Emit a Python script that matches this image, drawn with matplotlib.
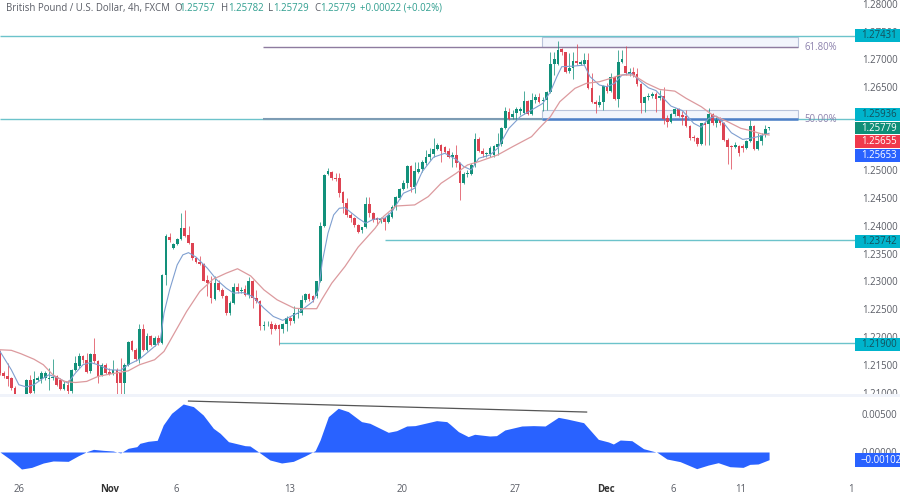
# GBP/USD 4h chart with price and oscillator panes
import matplotlib
matplotlib.use('Agg')
import matplotlib.pyplot as plt
from matplotlib.patches import Rectangle

plt.rcParams['font.family'] = ['Open Sans', 'DejaVu Sans']

W, H = 900, 494
GREEN = '#12907a'
RED = '#dd4352'
TEAL = '#6cc3cb'
PURPLE = '#8d82ad'
LABEL = '#5a5d66'

opens = [
    1.2174, 1.2136, 1.2129, 1.2126, 1.2109, 1.2096, 1.2090, 1.2093, 1.2123, 1.2102,
    1.2123, 1.2125, 1.2126, 1.2125, 1.2126, 1.2129, 1.2123, 1.2106, 1.2114, 1.2102,
    1.2141, 1.2147, 1.2166, 1.2158, 1.2138, 1.2170, 1.2157, 1.2132, 1.2150, 1.2137,
    1.2136, 1.2141, 1.2135, 1.2118, 1.2149, 1.2192, 1.2176, 1.2160, 1.2214, 1.2177,
    1.2201, 1.2186, 1.2198, 1.2190, 1.2312, 1.2381, 1.2360, 1.2368, 1.2376, 1.2396,
    1.2384, 1.2369, 1.2342, 1.2336, 1.2332, 1.2303, 1.2298, 1.2269, 1.2298, 1.2284,
    1.2274, 1.2243, 1.2262, 1.2290, 1.2283, 1.2286, 1.2276, 1.2300, 1.2270, 1.2264,
    1.2220, 1.2223, 1.2224, 1.2222, 1.2222, 1.2215, 1.2223, 1.2234, 1.2228, 1.2242,
    1.2243, 1.2267, 1.2277, 1.2273, 1.2273, 1.2300, 1.2400, 1.2493, 1.2498, 1.2487,
    1.2487, 1.2462, 1.2441, 1.2420, 1.2414, 1.2402, 1.2393, 1.2399, 1.2440, 1.2423,
    1.2414, 1.2411, 1.2414, 1.2408, 1.2417, 1.2434, 1.2450, 1.2466, 1.2478, 1.2509,
    1.2471, 1.2498, 1.2502, 1.2514, 1.2524, 1.2529, 1.2539, 1.2546, 1.2543, 1.2536,
    1.2525, 1.2528, 1.2514, 1.2477, 1.2493, 1.2494, 1.2510, 1.2556, 1.2536, 1.2529,
    1.2529, 1.2528, 1.2543, 1.2548, 1.2576, 1.2606, 1.2597, 1.2603, 1.2608, 1.2604,
    1.2625, 1.2602, 1.2627, 1.2633, 1.2625, 1.2627, 1.2642, 1.2692, 1.2692, 1.2719,
    1.2713, 1.2679, 1.2684, 1.2698, 1.2692, 1.2692, 1.2699, 1.2648, 1.2624, 1.2618,
    1.2623, 1.2653, 1.2643, 1.2668, 1.2628, 1.2695, 1.2689, 1.2674, 1.2677, 1.2674,
    1.2655, 1.2621, 1.2632, 1.2635, 1.2638, 1.2630, 1.2635, 1.2594, 1.2588, 1.2601,
    1.2610, 1.2600, 1.2598, 1.2580, 1.2561, 1.2558, 1.2548, 1.2586, 1.2584, 1.2602,
    1.2586, 1.2591, 1.2586, 1.2555, 1.2544, 1.2543, 1.2544, 1.2545, 1.2540, 1.2554,
    1.2580, 1.2539, 1.2554, 1.2564, 1.25757,
]
closes = [
    1.2135, 1.2129, 1.2124, 1.2108, 1.2093, 1.2087, 1.2081, 1.2123, 1.2100, 1.2125,
    1.2126, 1.2136, 1.2136, 1.2127, 1.2128, 1.2114, 1.2106, 1.2116, 1.2102, 1.2141,
    1.2153, 1.2166, 1.2158, 1.2137, 1.2170, 1.2156, 1.2130, 1.2150, 1.2136, 1.2134,
    1.2141, 1.2118, 1.2118, 1.2149, 1.2191, 1.2176, 1.2160, 1.2214, 1.2177, 1.2201,
    1.2186, 1.2198, 1.2190, 1.2312, 1.2382, 1.2375, 1.2368, 1.2376, 1.2396, 1.2382,
    1.2369, 1.2342, 1.2335, 1.2332, 1.2301, 1.2298, 1.2270, 1.2298, 1.2284, 1.2273,
    1.2243, 1.2262, 1.2290, 1.2282, 1.2285, 1.2276, 1.2300, 1.2270, 1.2264, 1.2220,
    1.2222, 1.2224, 1.2215, 1.2215, 1.2215, 1.2223, 1.2234, 1.2228, 1.2243, 1.2244,
    1.2267, 1.2277, 1.2269, 1.2267, 1.2300, 1.2400, 1.2492, 1.2499, 1.2486, 1.2485,
    1.2459, 1.2441, 1.2420, 1.2414, 1.2402, 1.2390, 1.2398, 1.2440, 1.2423, 1.2411,
    1.2411, 1.2413, 1.2407, 1.2420, 1.2434, 1.2452, 1.2466, 1.2478, 1.2509, 1.2471,
    1.2499, 1.2503, 1.2515, 1.2525, 1.2529, 1.2539, 1.2546, 1.2536, 1.2534, 1.2524,
    1.2528, 1.2513, 1.2477, 1.2494, 1.2496, 1.2510, 1.2556, 1.2536, 1.2529, 1.2531,
    1.2540, 1.2544, 1.2548, 1.2576, 1.2608, 1.2593, 1.2602, 1.2610, 1.2610, 1.2625,
    1.2601, 1.2627, 1.2633, 1.2624, 1.2627, 1.2642, 1.2691, 1.2700, 1.2718, 1.2713,
    1.2678, 1.2685, 1.2698, 1.2693, 1.2696, 1.2699, 1.2648, 1.2624, 1.2620, 1.2623,
    1.2653, 1.2643, 1.2668, 1.2628, 1.2695, 1.2701, 1.2675, 1.2677, 1.2672, 1.2655,
    1.2622, 1.2632, 1.2635, 1.2638, 1.2629, 1.2635, 1.2592, 1.2588, 1.2602, 1.2610,
    1.2598, 1.2597, 1.2580, 1.2559, 1.2558, 1.2548, 1.2585, 1.2582, 1.2602, 1.2585,
    1.2591, 1.2586, 1.2555, 1.2543, 1.2542, 1.2546, 1.2531, 1.2540, 1.2554, 1.2580,
    1.2539, 1.2554, 1.2564, 1.2574, 1.25779,
]
highs = [
    1.2177, 1.2138, 1.2153, 1.2128, 1.2111, 1.2098, 1.2092, 1.2124, 1.2132, 1.2138,
    1.2129, 1.2138, 1.2138, 1.2144, 1.2160, 1.2132, 1.2126, 1.2120, 1.2123, 1.2142,
    1.2165, 1.2172, 1.2168, 1.2171, 1.2171, 1.2198, 1.2159, 1.2153, 1.2153, 1.2144,
    1.2159, 1.2144, 1.2162, 1.2153, 1.2192, 1.2195, 1.2180, 1.2224, 1.2224, 1.2207,
    1.2204, 1.2201, 1.2204, 1.2314, 1.2385, 1.2388, 1.2369, 1.2378, 1.2423, 1.2428,
    1.2400, 1.2370, 1.2345, 1.2346, 1.2334, 1.2312, 1.2310, 1.2310, 1.2303, 1.2288,
    1.2276, 1.2264, 1.2297, 1.2297, 1.2290, 1.2294, 1.2308, 1.2303, 1.2285, 1.2267,
    1.2228, 1.2228, 1.2228, 1.2225, 1.2224, 1.2225, 1.2237, 1.2237, 1.2255, 1.2253,
    1.2276, 1.2279, 1.2279, 1.2276, 1.2301, 1.2407, 1.2493, 1.2505, 1.2499, 1.2495,
    1.2495, 1.2463, 1.2450, 1.2423, 1.2417, 1.2404, 1.2399, 1.2453, 1.2453, 1.2426,
    1.2417, 1.2417, 1.2417, 1.2423, 1.2438, 1.2454, 1.2468, 1.2483, 1.2510, 1.2510,
    1.2516, 1.2516, 1.2519, 1.2537, 1.2540, 1.2558, 1.2549, 1.2548, 1.2544, 1.2540,
    1.2534, 1.2546, 1.2516, 1.2498, 1.2500, 1.2513, 1.2568, 1.2561, 1.2540, 1.2534,
    1.2544, 1.2546, 1.2567, 1.2579, 1.2614, 1.2612, 1.2609, 1.2615, 1.2614, 1.2644,
    1.2627, 1.2640, 1.2638, 1.2639, 1.2632, 1.2643, 1.2714, 1.2714, 1.2734, 1.2720,
    1.2714, 1.2711, 1.2714, 1.2728, 1.2699, 1.2711, 1.2711, 1.2675, 1.2627, 1.2636,
    1.2654, 1.2657, 1.2675, 1.2669, 1.2717, 1.2717, 1.2724, 1.2685, 1.2687, 1.2685,
    1.2657, 1.2634, 1.2639, 1.2642, 1.2642, 1.2645, 1.2651, 1.2600, 1.2604, 1.2612,
    1.2612, 1.2608, 1.2609, 1.2582, 1.2564, 1.2560, 1.2586, 1.2588, 1.2612, 1.2603,
    1.2597, 1.2597, 1.2588, 1.2558, 1.2546, 1.2552, 1.2546, 1.2548, 1.2555, 1.2591,
    1.2582, 1.2567, 1.2567, 1.2582, 1.25782,
]
lows = [
    1.2132, 1.2126, 1.2111, 1.2105, 1.2090, 1.2084, 1.2078, 1.2087, 1.2096, 1.2099,
    1.2120, 1.2117, 1.2123, 1.2104, 1.2123, 1.2111, 1.2105, 1.2104, 1.2096, 1.2099,
    1.2139, 1.2144, 1.2153, 1.2135, 1.2135, 1.2153, 1.2118, 1.2130, 1.2134, 1.2132,
    1.2132, 1.2096, 1.2096, 1.2096, 1.2147, 1.2174, 1.2156, 1.2153, 1.2174, 1.2174,
    1.2183, 1.2184, 1.2186, 1.2188, 1.2294, 1.2372, 1.2358, 1.2366, 1.2375, 1.2381,
    1.2368, 1.2339, 1.2333, 1.2330, 1.2300, 1.2273, 1.2261, 1.2267, 1.2282, 1.2270,
    1.2240, 1.2240, 1.2260, 1.2279, 1.2279, 1.2273, 1.2270, 1.2252, 1.2261, 1.2212,
    1.2212, 1.2219, 1.2206, 1.2213, 1.2186, 1.2207, 1.2210, 1.2222, 1.2225, 1.2235,
    1.2240, 1.2263, 1.2265, 1.2263, 1.2271, 1.2299, 1.2399, 1.2491, 1.2483, 1.2481,
    1.2453, 1.2423, 1.2417, 1.2408, 1.2399, 1.2387, 1.2387, 1.2396, 1.2417, 1.2408,
    1.2402, 1.2405, 1.2393, 1.2405, 1.2414, 1.2429, 1.2448, 1.2464, 1.2468, 1.2462,
    1.2460, 1.2495, 1.2498, 1.2510, 1.2519, 1.2525, 1.2537, 1.2516, 1.2531, 1.2522,
    1.2507, 1.2507, 1.2447, 1.2476, 1.2489, 1.2492, 1.2507, 1.2534, 1.2525, 1.2525,
    1.2525, 1.2525, 1.2528, 1.2544, 1.2574, 1.2591, 1.2592, 1.2591, 1.2600, 1.2602,
    1.2600, 1.2600, 1.2622, 1.2621, 1.2608, 1.2609, 1.2640, 1.2672, 1.2690, 1.2708,
    1.2675, 1.2675, 1.2665, 1.2690, 1.2690, 1.2690, 1.2646, 1.2621, 1.2603, 1.2615,
    1.2609, 1.2640, 1.2642, 1.2627, 1.2614, 1.2693, 1.2672, 1.2670, 1.2668, 1.2653,
    1.2604, 1.2606, 1.2627, 1.2630, 1.2606, 1.2627, 1.2584, 1.2578, 1.2585, 1.2599,
    1.2596, 1.2582, 1.2578, 1.2555, 1.2554, 1.2544, 1.2546, 1.2546, 1.2546, 1.2582,
    1.2579, 1.2582, 1.2554, 1.2512, 1.2502, 1.2540, 1.2526, 1.2534, 1.2538, 1.2552,
    1.2537, 1.2537, 1.2546, 1.2561, 1.25729,
]

fast_x = [0, 3, 5, 7, 9, 11.5, 13, 15.5, 18, 20, 22, 24, 26, 29, 32, 34, 37, 41, 42.5, 43.5,
          45, 47, 48.5, 50, 52, 55, 57.5, 60, 62, 64.5, 67, 70, 72.5, 75, 78, 79, 83, 84.5,
          85.5, 87, 88.5, 90, 91.5, 95, 97, 99, 102, 104, 107, 110, 112, 115, 118, 121, 123,
          125, 127, 130, 132, 135, 138, 141, 144, 146, 147.7, 149, 152, 155, 156.5, 159,
          161, 163, 165, 167.5, 170, 172, 174, 176, 178, 181, 184, 186, 188, 190, 192, 194,
          197, 199, 201, 204]
fast_ma = [1.2174, 1.2141, 1.2114, 1.2110, 1.2114, 1.2126, 1.2132, 1.2126, 1.2117, 1.2135,
           1.2150, 1.2154, 1.2150, 1.2141, 1.2140, 1.2150, 1.2160, 1.2183, 1.2192, 1.2243,
           1.2285, 1.2330, 1.2348, 1.2352, 1.2344, 1.2324, 1.2303, 1.2288, 1.2279, 1.2280,
           1.2273, 1.2252, 1.2237, 1.2230, 1.2240, 1.2243, 1.2264, 1.2285, 1.2336, 1.2387,
           1.2420, 1.2432, 1.2433, 1.2414, 1.2405, 1.2412, 1.2414, 1.2426, 1.2459, 1.2468,
           1.2498, 1.2524, 1.2531, 1.2520, 1.2507, 1.2501, 1.2522, 1.2528, 1.2540, 1.2576,
           1.2597, 1.2609, 1.2621, 1.2642, 1.2669, 1.2687, 1.2688, 1.2690, 1.2669, 1.2654,
           1.2651, 1.2657, 1.2672, 1.2675, 1.2660, 1.2649, 1.2644, 1.2630, 1.2616, 1.2608,
           1.2585, 1.2578, 1.2594, 1.2598, 1.2585, 1.2568, 1.2556, 1.2558, 1.2561, 1.2567]
slow_x = [0, 3, 5.5, 9, 11.5, 14, 17, 20, 23, 26, 29, 34, 37, 41, 43.5, 46, 49.5, 53, 56.5, 60,
          63, 66.5, 70, 73.5, 78, 80, 84, 85.3, 88, 91.5, 95, 99.5, 101.7, 105, 110, 113.6,
          117, 121, 124, 127, 132, 136, 141, 143, 146, 148.5, 152.5, 155.5, 159, 162, 164.5,
          168, 171.5, 175, 179, 182, 186, 189, 193, 196.5, 199, 202, 204]
slow_ma = [1.2177, 1.2176, 1.2170, 1.2160, 1.2150, 1.2132, 1.2120, 1.2118, 1.2120, 1.2129,
           1.2133, 1.2139, 1.2150, 1.2159, 1.2174, 1.2204, 1.2246, 1.2282, 1.2304, 1.2315,
           1.2323, 1.2310, 1.2285, 1.2267, 1.2252, 1.2251, 1.2251, 1.2267, 1.2297, 1.2327,
           1.2362, 1.2396, 1.2417, 1.2436, 1.2438, 1.2453, 1.2477, 1.2495, 1.2510, 1.2516,
           1.2528, 1.2543, 1.2561, 1.2576, 1.2597, 1.2624, 1.2648, 1.2657, 1.2660, 1.2666,
           1.2672, 1.2672, 1.2657, 1.2646, 1.2643, 1.2630, 1.2615, 1.2600, 1.2588, 1.2576,
           1.2572, 1.2566, 1.2564]

osc_x = [0, 2.7, 5.7, 8.4, 11.5, 14.1, 18.1, 20.8, 23, 24.8, 27.4, 30, 32, 34, 36.3, 37.1, 39.3,
         41.7, 43.3, 45.5, 48.6, 51.3, 53.9, 56.6, 58.4, 60.6, 65, 66.3, 68.5, 71.6, 74.7, 77.8,
         80.9, 83.6, 84.9, 87.1, 89.7, 92.4, 95.9, 98.1, 103, 105.2, 107.9, 110.1, 115.8, 118.5,
         119.4, 121.6, 124.2, 125.9, 129.9, 131.7, 133.9, 138.4, 141.5, 144.6, 148.1, 150.4,
         154.8, 158.7, 161.4, 162.7, 164.5, 167.6, 170.7, 174.3, 176.9, 180.4, 184.8, 187.9,
         190.5, 193.6, 197.1, 198.9, 201.1, 204]
osc_values = [0, -0.00097, -0.00226, -0.00204, -0.00146, -0.00119, -0.00124, -0.00049, 0.00004,
              0.00035, 0.00022, 0.00013, -0.00013, 0.00049, 0.00071, 0.00115, 0.00142, 0.00155,
              0.00358, 0.00513, 0.00637, 0.00602, 0.00491, 0.00314, 0.00248, 0.00137, 0.00084,
              0.00080, 0.00004, -0.00106, -0.00146, -0.00124, -0.00053, 0.00018, 0.00159, 0.00469,
              0.00580, 0.00535, 0.00403, 0.00381, 0.00261, 0.00283, 0.00345, 0.00350, 0.00416,
              0.00403, 0.00367, 0.00270, 0.00204, 0.00235, 0.00212, 0.00217, 0.00292, 0.00345,
              0.00350, 0.00345, 0.00460, 0.00438, 0.00389, 0.00168, 0.00133, 0.00106, 0.00159,
              0.00150, 0.00044, -0.00004, -0.00093, -0.00128, -0.00221, -0.00173, -0.00142,
              -0.00195, -0.00204, -0.00164, -0.00159, -0.00102]

price_ticks = [1.21, 1.215, 1.22, 1.225, 1.23, 1.235, 1.24, 1.245, 1.25, 1.255, 1.26, 1.265, 1.27, 1.275, 1.28]
osc_ticks = [0.0, 0.005]
time_ticks = [5, 29, 46.7, 76.8, 106.6, 136.6, 160.7, 178.5, 196.5, 225.7]
time_labels = ['26', 'Nov', '6', '13', '20', '27', 'Dec', '6', '11', '1']

# horizontal levels: price, first bar
levels = [1.27431, 1.25936, 1.23742, 1.21900]
level_starts = [0, 0, 102, 74]


def fx(px):
    return px / W


def fy(py):
    return 1 - py / H


def box(x0, y0, x1, y1, color, z=6):
    fig.add_artist(Rectangle((fx(x0), fy(y1)), fx(x1 - x0), (y1 - y0) / H, transform=fig.transFigure,
                             facecolor=color, edgecolor='none', zorder=z))


def tag(y0, y1, color, text, text_color):
    box(855, y0, 900, y1, color)
    fig.text(fx(861), fy((y0 + y1) / 2), text, color=text_color, fontsize=6.9, va='center', zorder=7)


fig = plt.figure(figsize=(9, 4.94), dpi=100)
ax = fig.add_axes([0, fy(394), fx(855), 394 / H])
osc = fig.add_axes([0, fy(478), fx(855), 82 / H])

xlim = (0, 855 / 3.77)
ax.set_xlim(xlim)
ax.set_ylim(1.20973, 1.28072)
osc.set_xlim(xlim)
osc.set_ylim(-0.00345, 0.00743)

# candles
for i in range(len(opens)):
    color = GREEN if closes[i] >= opens[i] else RED
    ax.vlines(i, lows[i], highs[i], color=color, linewidth=0.7, alpha=0.75, zorder=3)
    top = max(opens[i], closes[i])
    bottom = min(opens[i], closes[i])
    ax.bar(i, top - bottom, bottom=bottom, width=0.72, color=color, linewidth=0, zorder=4)

ax.plot(fast_x, fast_ma, color='#7f9fd0', linewidth=0.8, zorder=5)
ax.plot(slow_x, slow_ma, color='#dc9a9e', linewidth=0.9, zorder=5)

# support / resistance levels
for level, start in zip(levels, level_starts):
    ax.hlines(level, start, xlim[1], color=TEAL, linewidth=1.0, zorder=2)

# fibonacci levels and zones
fib_start, fib_end = 69.8, 211.7
ax.hlines(1.2722, fib_start, fib_end, color='#8e7b9f', linewidth=1.0, zorder=2)
ax.hlines(1.2592, fib_start, 143.8, color='#7d9cb4', linewidth=1.5, zorder=2)
ax.hlines(1.2592, 143.8, fib_end, color='#4f7fc8', linewidth=1.8, zorder=2)
ax.add_patch(Rectangle((143.8, 1.2722), fib_end - 143.8, 1.27414 - 1.2722, facecolor='#f2f5fc',
                       edgecolor='#b9c3da', linewidth=0.8, zorder=1))
ax.add_patch(Rectangle((143.8, 1.2592), fib_end - 143.8, 1.2609 - 1.2592, facecolor='#f2f5fc',
                       edgecolor='#b9c3da', linewidth=0.8, zorder=1))
ax.text(213.3, 1.2722, '61.80%', color=PURPLE, fontsize=6.9, va='center')
ax.text(213.3, 1.2592, '50.00%', color=PURPLE, fontsize=6.9, va='center', zorder=6)

# oscillator pane
osc.fill_between(osc_x, osc_values, 0, color='#2962ff', linewidth=0, interpolate=True)
osc.plot([50, 155.6], [0.00676, 0.00530], color='#555555', linewidth=0.9)

for a in (ax, osc):
    a.patch.set_alpha(0)
    for s in a.spines.values():
        s.set_visible(False)
    a.yaxis.tick_right()
    a.tick_params(axis='y', length=0, pad=5, labelsize=6.9, labelcolor=LABEL)

ax.set_yticks(price_ticks)
ax.set_yticklabels(['%.5f' % t for t in price_ticks])
ax.set_xticks([])
osc.set_yticks(osc_ticks)
osc.set_yticklabels(['%.5f' % t for t in osc_ticks])
osc.set_xticks(time_ticks)
osc.set_xticklabels(time_labels)
osc.tick_params(axis='x', length=0, pad=4, labelsize=6.9, labelcolor=LABEL)
for lab in osc.get_xticklabels():
    if lab.get_text() in ('Nov', 'Dec'):
        lab.set_fontweight('bold')
        lab.set_color('#333333')

# pane divider hides the lower half of the last price label
box(0, 394, 900, 396.5, '#f0f3fa', z=5)
box(856, 396.5, 900, 406, 'white', z=5)

tag(29, 42, '#00b4cc', '1.27431', '#14505c')
tag(108, 121, '#00b4cc', '1.25936', '#14505c')
tag(122, 134.5, '#0f8f78', '1.25779', 'white')
tag(135, 148, '#f0394c', '1.25655', 'white')
tag(149, 162, '#2962ff', '1.25653', 'white')
tag(235, 248, '#00b4cc', '1.23742', '#14505c')
tag(337.5, 351, '#00b4cc', '1.21900', '#14505c')
tag(453, 467, '#2962ff', '\u22120.00102', 'white')

# header line
fig.text(fx(6), fy(8.5), 'British Pound / U.S. Dollar, 4h, FXCM', color=LABEL, fontsize=6.9, va='center')
header = [(174, 'O', LABEL), (179.5, '1.25757', '#2f9e8f'), (221.5, 'H', LABEL), (228, '1.25782', '#2f9e8f'),
          (268, 'L', LABEL), (273, '1.25729', '#2f9e8f'), (314, 'C', LABEL), (320, '1.25779', '#2f9e8f'),
          (360, '+0.00022 (+0.02%)', '#2f9e8f')]
for hx, text, color in header:
    fig.text(fx(hx), fy(8.5), text, color=color, fontsize=6.9, va='center')

fig.savefig('out.png', dpi=100)
